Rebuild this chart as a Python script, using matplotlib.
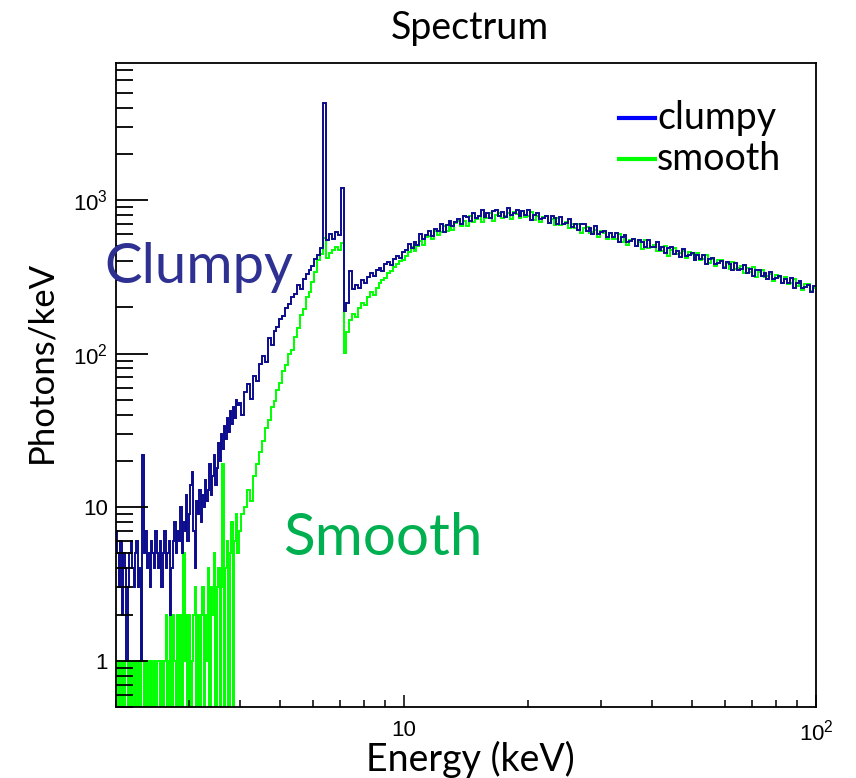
import matplotlib
matplotlib.use("Agg")
import matplotlib.pyplot as plt
import numpy as np
from matplotlib.lines import Line2D


# energy range of the histogram (keV); finer log bins below e_split
e_min, e_split, e_max = 2., 3.966, 100.

# photons per bin, 2 - 3.97 keV
clumpy_low = [
    7, 5, 3, 6, 2, 5, 4, 1, 3, 5,
    6, 4, 3, 5, 6, 3, 4, 1, 22, 5,
    7, 4, 5, 3, 6, 5, 4, 7, 5, 4,
    6, 3, 5, 7, 4, 5, 6, 2, 4, 6,
    8, 5, 7, 6, 10, 5, 8, 7, 12, 6,
    9, 14, 17, 7, 4, 11, 9, 13, 8, 12,
    10, 15, 11, 13, 19, 12, 16, 22, 14, 18,
    26, 20, 30, 24, 34, 28, 38, 31, 42, 35,
    45, 38, 50, 46,
]
smooth_low = [
    1, 0, 1, 0, 1, 0, 1, 1, 0, 1,
    0, 1, 0, 1, 0, 1, 0, 4, 1, 0,
    1, 0, 1, 0, 1, 0, 1, 0, 1, 1,
    0, 1, 0, 1, 2, 0, 1, 2, 0, 2,
    1, 0, 2, 0, 2, 0, 5, 1, 2, 0,
    2, 0, 1, 2, 3, 0, 2, 0, 2, 3,
    0, 2, 1, 4, 0, 3, 2, 5, 0, 3,
    4, 0, 3, 19, 0, 4, 6, 0, 5, 8,
    0, 6, 9, 5,
]

# photons per bin, 3.97 - 100 keV
clumpy_high = [
    48, 40, 56, 63, 51, 72, 66, 86,
    97, 88, 126, 114, 141, 150, 168, 176, 198, 210,
    232, 246, 279, 262, 305, 328, 352, 374, 415, 438,
    486, 4300, 545, 605, 558, 615, 590, 1200, 190, 212,
    345, 262, 281, 268, 302, 287, 316, 334, 318, 349,
    362, 347, 381, 392, 376, 414, 433, 418, 458, 472,
    515, 485, 530, 508, 597, 555, 588, 624, 584, 647,
    629, 695, 621, 691, 733, 682, 715, 757, 700, 785,
    780, 733, 827, 764, 787, 856, 774, 827, 766, 843,
    861, 789, 839, 775, 883, 800, 824, 856, 781, 845,
    799, 856, 745, 802, 826, 749, 765, 789, 713, 782,
    760, 700, 773, 699, 706, 754, 669, 703, 640, 693,
    695, 628, 660, 601, 676, 605, 617, 633, 571, 611,
    573, 614, 533, 573, 589, 533, 544, 559, 505, 552,
    536, 493, 545, 493, 498, 532, 472, 496, 452, 489,
    494, 446, 469, 428, 482, 432, 440, 452, 409, 438,
    412, 441, 382, 411, 422, 382, 389, 401, 361, 395,
    383, 352, 389, 352, 355, 380, 337, 354, 322, 349,
    352, 318, 334, 304, 341, 306, 311, 319, 288, 308,
    289, 310, 268, 288, 295, 267, 271, 279, 251, 275,
]
smooth_high = [
    7, 9, 10, 13, 11, 16, 19, 23,
    27, 33, 37, 45, 49, 58, 64, 77, 84, 99,
    106, 128, 147, 178, 196, 232, 251, 294, 342, 408,
    445, 565, 418, 452, 476, 492, 471, 522, 101, 138,
    166, 181, 172, 198, 214, 206, 233, 251, 241, 268,
    287, 302, 311, 334, 343, 366, 381, 398, 406, 432,
    460, 494, 468, 500, 538, 506, 575, 579, 554, 633,
    592, 618, 682, 624, 675, 634, 706, 730, 677, 729,
    681, 784, 719, 749, 786, 724, 791, 758, 825, 727,
    794, 828, 760, 786, 820, 749, 830, 814, 758, 845,
    771, 781, 838, 745, 784, 716, 778, 785, 711, 749,
    683, 769, 690, 703, 723, 653, 699, 658, 703, 609,
    653, 671, 607, 618, 636, 572, 626, 606, 558, 614,
    555, 560, 599, 532, 559, 509, 553, 558, 504, 529,
    483, 545, 488, 498, 513, 464, 497, 468, 501, 435,
    475, 488, 442, 450, 464, 418, 458, 444, 409, 451,
    407, 412, 440, 391, 410, 374, 405, 408, 369, 388,
    353, 397, 356, 363, 373, 337, 362, 340, 364, 315,
    338, 348, 314, 320, 329, 296, 323, 313, 288, 317,
    286, 289, 308, 274, 287, 261, 282, 285, 256, 269,
]

ytick_vals = [1, 10, 100, 1000]
ytick_labels = ["1", "10", r"$\mathregular{10^2}$", r"$\mathregular{10^3}$"]
xtick_vals = [10, 100]
xtick_labels = ["10", r"$\mathregular{10^2}$"]

plt.rcParams["font.family"] = ["Liberation Sans", "DejaVu Sans"]
plt.rcParams["mathtext.fontset"] = "custom"
plt.rcParams["mathtext.rm"] = "Liberation Sans"

W, H = 856, 778
fig = plt.figure(figsize=(W / 100., H / 100.), dpi=100)
ax = fig.add_axes([116. / W, 1 - 707. / H, 700. / W, 644. / H])

edges = np.concatenate([np.geomspace(e_min, e_split, len(clumpy_low) + 1),
                        np.geomspace(e_split, e_max, len(clumpy_high) + 1)[1:]])
clumpy = clumpy_low + clumpy_high
smooth = smooth_low + smooth_high

ax.set_xscale("log")
ax.set_yscale("log", nonpositive="clip")
ax.stairs(smooth, edges, baseline=None, color="#00ff00", lw=1.4)
ax.stairs(clumpy, edges, baseline=None, color="#0c0c8e", lw=1.4)

ax.set_xlim(e_min, e_max)
ax.set_ylim(0.5, 7800)

ax.set_yticks(ytick_vals)
ax.set_yticklabels(ytick_labels)
ax.set_xticks(xtick_vals)
ax.set_xticklabels(xtick_labels)
ax.tick_params(axis="y", which="major", direction="in", length=23, width=1.3, labelsize=16, pad=6)
ax.tick_params(axis="y", which="minor", direction="in", length=12, width=1.3)
ax.tick_params(axis="x", which="major", direction="in", length=9, width=1.1, labelsize=16, pad=9)
ax.tick_params(axis="x", which="minor", direction="in", length=5, width=1.1)
ax.xaxis.set_minor_formatter(matplotlib.ticker.NullFormatter())
ax.yaxis.set_minor_formatter(matplotlib.ticker.NullFormatter())
for s in ax.spines.values():
    s.set_linewidth(1.3)

# PowerPoint-like overlay texts
ann = ["Lato", "DejaVu Sans"]
fig.text(470. / W, 1 - 28. / H, "Spectrum", ha="center", va="center", fontsize=27, family=ann)
fig.text(41. / W, 1 - 362. / H, "Photons/keV", ha="center", va="center", rotation=90, fontsize=25, family=ann)
fig.text(470. / W, 1 - 759. / H, "Energy (keV)", ha="center", va="center", fontsize=27, family=ann)
fig.text(104. / W, 1 - 283. / H, "Clumpy", ha="left", va="baseline", fontsize=40.5, color="#2e3192", family=ann)
fig.text(283. / W, 1 - 555. / H, "Smooth", ha="left", va="baseline", fontsize=42, color="#00b050", family=ann)

# legend drawn by hand, ROOT TLegend style
leg_labels = ["clumpy", "smooth"]
leg_colors = ["#0000ff", "#00ff00"]
for k, (lab, col) in enumerate(zip(leg_labels, leg_colors)):
    yk = 1 - (118. + 41. * k) / H
    fig.add_artist(Line2D([619. / W, 655. / W], [yk, yk], color=col, lw=3, transform=fig.transFigure))
    fig.text(657. / W, yk, lab, ha="left", va="center", fontsize=27, family=ann)

fig.savefig("out.png", dpi=100)
